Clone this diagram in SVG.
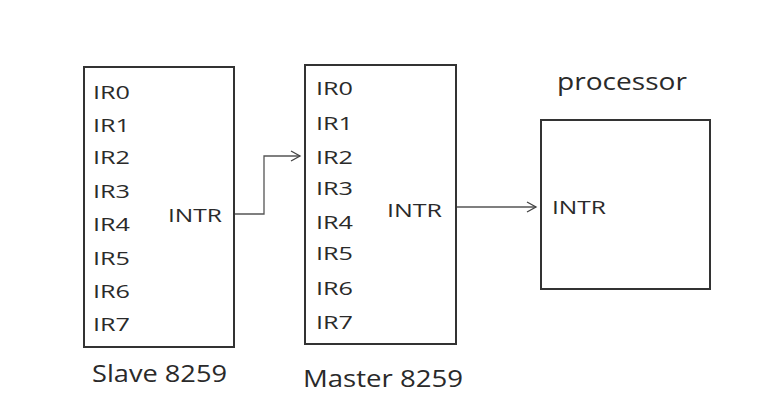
<svg xmlns="http://www.w3.org/2000/svg" width="781" height="418" viewBox="0 0 781 418">
<style>
.box{fill:#fff;stroke:#333;stroke-width:2}
.t{font-family:"Open Sans","Liberation Sans",sans-serif;fill:#2a2a2a;font-size:18px}
.big{font-size:24px}
.c{fill:none;stroke:#555;stroke-width:1.3}
</style>
<defs>
<marker id="arr" markerWidth="12" markerHeight="12" refX="10" refY="6" orient="auto" markerUnits="userSpaceOnUse">
<path d="M1,1 L10,6 L1,11" fill="none" stroke="#444" stroke-width="1.3"/>
</marker>
</defs>
<rect width="781" height="418" fill="#fff"/>
<g id="slave">
<rect class="box" x="84" y="67" width="150" height="280"/>
<text class="t" x="93" y="99" textLength="37" lengthAdjust="spacingAndGlyphs">IR0</text>
<text class="t" x="93" y="132" textLength="37" lengthAdjust="spacingAndGlyphs">IR1</text>
<text class="t" x="93" y="164" textLength="37" lengthAdjust="spacingAndGlyphs">IR2</text>
<text class="t" x="93" y="198" textLength="37" lengthAdjust="spacingAndGlyphs">IR3</text>
<text class="t" x="93" y="231" textLength="37" lengthAdjust="spacingAndGlyphs">IR4</text>
<text class="t" x="93" y="265" textLength="37" lengthAdjust="spacingAndGlyphs">IR5</text>
<text class="t" x="93" y="298" textLength="37" lengthAdjust="spacingAndGlyphs">IR6</text>
<text class="t" x="93" y="331" textLength="37" lengthAdjust="spacingAndGlyphs">IR7</text>
<text class="t" x="168" y="222" textLength="54" lengthAdjust="spacingAndGlyphs">INTR</text>
<text class="t big" x="92" y="382" textLength="135" lengthAdjust="spacingAndGlyphs">Slave 8259</text>
</g>
<g id="master">
<rect class="box" x="305" y="65" width="151" height="279"/>
<text class="t" x="316" y="95" textLength="37" lengthAdjust="spacingAndGlyphs">IR0</text>
<text class="t" x="316" y="130" textLength="37" lengthAdjust="spacingAndGlyphs">IR1</text>
<text class="t" x="316" y="164" textLength="37" lengthAdjust="spacingAndGlyphs">IR2</text>
<text class="t" x="316" y="195" textLength="37" lengthAdjust="spacingAndGlyphs">IR3</text>
<text class="t" x="316" y="229" textLength="37" lengthAdjust="spacingAndGlyphs">IR4</text>
<text class="t" x="316" y="260" textLength="37" lengthAdjust="spacingAndGlyphs">IR5</text>
<text class="t" x="316" y="295" textLength="37" lengthAdjust="spacingAndGlyphs">IR6</text>
<text class="t" x="316" y="329" textLength="37" lengthAdjust="spacingAndGlyphs">IR7</text>
<text class="t" x="387" y="217" textLength="55" lengthAdjust="spacingAndGlyphs">INTR</text>
<text class="t big" x="303" y="387" textLength="160" lengthAdjust="spacingAndGlyphs">Master 8259</text>
</g>
<g id="processor">
<rect class="box" x="541" y="120" width="169" height="169"/>
<text class="t" x="552" y="214" textLength="54" lengthAdjust="spacingAndGlyphs">INTR</text>
<text class="t big" x="557" y="90" textLength="130" lengthAdjust="spacingAndGlyphs">processor</text>
</g>
<g id="connectors">
<path class="c" d="M235,214 H264 V156 H300" marker-end="url(#arr)"/>
<path class="c" d="M457,207 H536" marker-end="url(#arr)"/>
</g>
</svg>
